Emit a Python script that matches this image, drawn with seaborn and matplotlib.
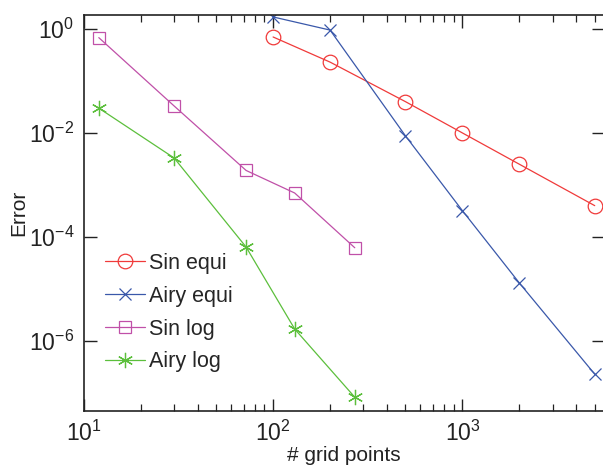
import matplotlib
matplotlib.use("Agg")
import matplotlib.pyplot as plt
import matplotlib.ticker as mticker
import numpy as np
import pandas as pd
import seaborn as sns

# grid sizes
n_equi = [100, 200, 500, 1000, 2000, 5000]
n_log = [12, 30, 72, 130, 270]

# errors
sin_equi = [0.70, 0.23, 0.040, 0.010, 0.0025, 4.0e-4]
airy_equi = [1.7, 0.95, 0.0088, 3.2e-4, 1.3e-5, 2.3e-7]
sin_log = [0.68, 0.033, 0.0019, 7.0e-4, 6.2e-5]
airy_log = [0.030, 0.0033, 6.4e-5, 1.7e-6, 8.3e-8]

sns.set_style("white")
plt.rcParams['font.family'] = ['Liberation Sans', 'DejaVu Sans']
plt.rcParams['mathtext.fontset'] = 'custom'
plt.rcParams['mathtext.rm'] = 'Liberation Sans'
plt.rcParams['mathtext.it'] = 'Liberation Sans'

fig = plt.figure(figsize=(6.03, 4.66), dpi=100)
ax = fig.add_axes([0.139, 0.118, 0.862, 0.850])

series = [
    ("Sin equi", n_equi, sin_equi, "#f03a3a", "o", 10.5),
    ("Airy equi", n_equi, airy_equi, "#3a58aa", "x", 9),
    ("Sin log", n_log, sin_log, "#c050a8", "s", 9),
    ("Airy log", n_log, airy_log, "#5cbf3c", (6, 2, 0), 11),
]

for name, xs, ys, col, mk, ms in series:
    df = pd.DataFrame({"n": xs, "err": ys})
    sns.lineplot(data=df, x="n", y="err", ax=ax, color=col, marker=mk,
                 markersize=ms, markerfacecolor="none", markeredgecolor=col,
                 markeredgewidth=0.9, linewidth=0.9, label=name)

ax.set_xscale("log")
ax.set_yscale("log")
ax.set_xlim(10, 5570)
ax.set_ylim(4.5e-8, 1.86)

ax.xaxis.set_major_locator(mticker.LogLocator(base=10))
ax.xaxis.set_minor_locator(mticker.LogLocator(base=10, subs=np.arange(2, 10)))
ax.yaxis.set_major_locator(mticker.LogLocator(base=100))
ax.yaxis.set_minor_locator(mticker.NullLocator())
ax.xaxis.set_minor_formatter(mticker.NullFormatter())

ax.tick_params(which="both", direction="in", bottom=True, left=True,
               top=True, right=True,
               colors="#222222", labelcolor="#222222", labelsize=16.5)
ax.tick_params(which="major", length=9, width=1.0, pad=7)
ax.tick_params(which="minor", length=5, width=0.9)
for sp in ax.spines.values():
    sp.set_linewidth(1.2)
    sp.set_color("#222222")

ax.set_xlabel("# grid points", fontsize=15, color="#222222", labelpad=0)
ax.set_ylabel("Error", fontsize=15, color="#222222", labelpad=0)

leg = ax.legend(loc="upper left", bbox_to_anchor=(0.003, 0.448), frameon=False,
                fontsize=15.5, handlelength=1.85, labelspacing=0.55,
                handletextpad=0.2)

fig.savefig("out.png", dpi=100)
